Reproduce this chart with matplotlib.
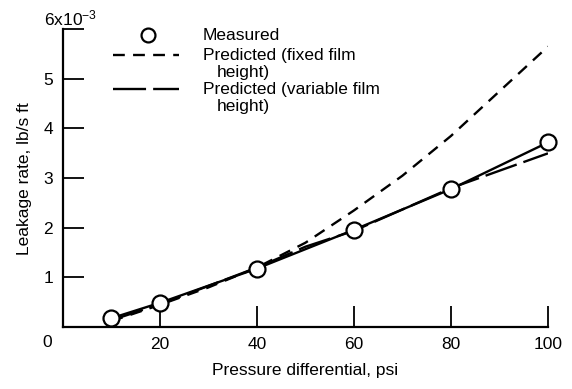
import matplotlib
matplotlib.use("Agg")
import matplotlib.pyplot as plt
from matplotlib.lines import Line2D

plt.rcParams["font.family"] = ["Liberation Sans", "DejaVu Sans"]
plt.rcParams["mathtext.default"] = "regular"

# measured leakage, 10^-3 lb/s ft
pressure = [10, 20, 40, 60, 80, 100]
measured = [0.18, 0.49, 1.18, 1.96, 2.78, 3.72]

# predicted, fixed film height
fixed_p = [10, 20, 30, 40, 50, 60, 70, 80, 90, 100]
fixed_q = [0.12, 0.45, 0.80, 1.20, 1.70, 2.35, 3.05, 3.85, 4.75, 5.65]

# predicted, variable film height
var_p = [10, 20, 40, 50, 60, 80, 100]
var_q = [0.14, 0.46, 1.20, 1.62, 1.94, 2.80, 3.50]

xticks = [20, 40, 60, 80, 100]
yticks = [1, 2, 3, 4, 5, 6]
ylabels = ["1", "2", "3", "4", "5", ""]

fs = 12.5
fig = plt.figure(figsize=(5.72, 3.89), dpi=100)
ax = fig.add_axes([0.110, 0.159, 0.848, 0.766])

ax.plot(fixed_p, fixed_q, color="k", lw=1.7, ls=(0, (5, 3.5)))
ax.plot(var_p, var_q, color="k", lw=1.7, ls=(0, (14, 3)))
ax.plot(pressure, measured, color="k", lw=1.7, marker="o", ms=11.5,
        mfc="w", mec="k", mew=1.6, zorder=5, clip_on=False)

ax.set_xlim(0, 100)
ax.set_ylim(0, 6)
ax.spines["top"].set_visible(False)
ax.spines["right"].set_visible(False)
ax.spines["left"].set_linewidth(1.6)
ax.spines["bottom"].set_linewidth(1.6)
ax.set_xticks(xticks)
ax.set_yticks(yticks)
ax.set_yticklabels(ylabels)
ax.tick_params(direction="in", length=15, width=1.3, labelsize=fs, pad=7)

ax.text(-3.2, -0.3, "0", ha="center", va="center", fontsize=fs)
ax.text(-4, 6.02, "6x10$^{-3}$", ha="left", va="bottom", fontsize=fs)

ax.set_xlabel("Pressure differential, psi", fontsize=fs, labelpad=8)
ax.set_ylabel("Leakage rate, lb/s ft", fontsize=fs, labelpad=8)

# hand-placed legend, handles beside first line of each label
tr = ax.transAxes
ax.add_line(Line2D([0.175], [0.98], transform=tr, marker="o", ms=10,
                   mfc="w", mec="k", mew=1.6, ls="none", clip_on=False))
ax.add_line(Line2D([0.103, 0.240], [0.913, 0.913], transform=tr, color="k",
                   lw=1.7, ls=(0, (5, 3.5))))
ax.add_line(Line2D([0.103, 0.240], [0.799, 0.799], transform=tr, color="k",
                   lw=1.7, ls=(0, (14, 3))))
tx = 0.288
ax.text(tx, 0.98, "Measured", transform=tr, fontsize=fs, va="center")
ax.text(tx, 0.913, "Predicted (fixed film", transform=tr, fontsize=fs, va="center")
ax.text(tx + 0.03, 0.856, "height)", transform=tr, fontsize=fs, va="center")
ax.text(tx, 0.799, "Predicted (variable film", transform=tr, fontsize=fs, va="center")
ax.text(tx + 0.03, 0.742, "height)", transform=tr, fontsize=fs, va="center")

fig.savefig("out.png", dpi=100)
